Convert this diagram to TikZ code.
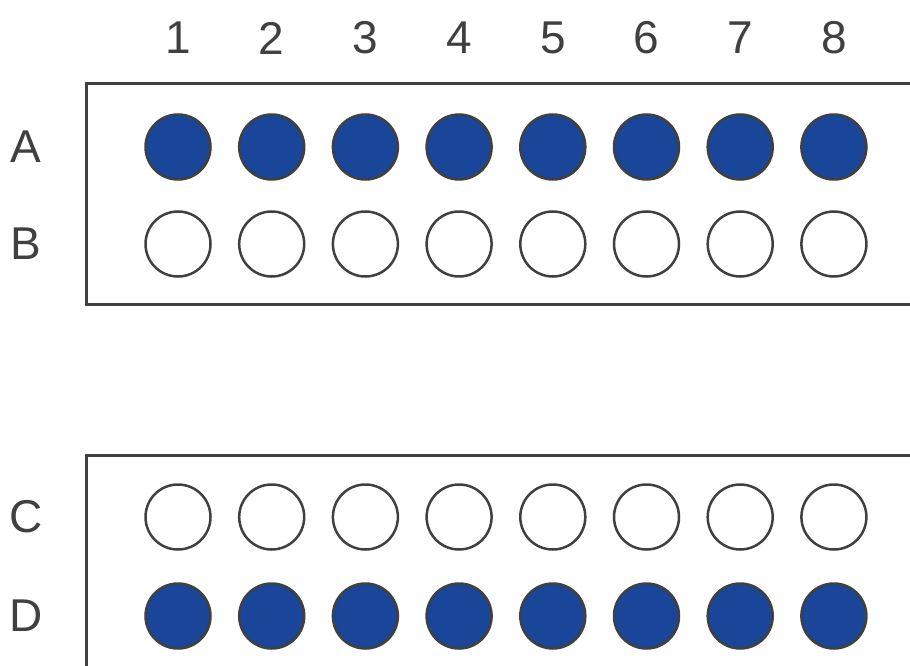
\documentclass[tikz,border=0pt]{standalone}
\usepackage{fontspec}
\setmainfont{Liberation Sans}
\usetikzlibrary{positioning}
\definecolor{wellblue}{RGB}{26,70,153}
\definecolor{rim}{RGB}{64,64,64}

\begin{document}
\begin{tikzpicture}[x=1pt, y=-1pt, well/.style = {draw=rim, circle, line width=2.5pt, minimum size=65pt, inner sep=0pt}, full/.style = {well, fill=wellblue}, lbl/.style = {text=rim, inner sep=0pt, font=\fontsize{46}{46}\selectfont}, plate/.style = {draw=rim, line width=3pt}]
    \useasboundingbox (0,0) rectangle (910,666);
    % plates, open to the right
    \coordinate (p1) at (86,84);
    \coordinate (p2) at (86,455);
    \draw[plate] (p1 -| 915,0) -- (p1) -- (86,304) -- (915,304);
    \draw[plate] (p2 -| 915,0) -- (p2) -- (86,670);
    % wells
    \foreach \i in {1,...,8} {
        \node[full] (A\i) at ({178+93.7*(\i-1)},147) {};
        \node[well] (B\i) at ({178+93.7*(\i-1)},244) {};
        \node[well] (C\i) at ({178+93.7*(\i-1)},517) {};
        \node[full] (D\i) at ({178+93.7*(\i-1)},616) {};
        \node[lbl] (n\i) at ({178+93.7*(\i-1)},38) {\i};
    }
    % row letters
    \node[lbl] (rowA) at (26,147) {A};
    \node[lbl] (rowB) at (26,244) {B};
    \node[lbl] (rowC) at (26,517) {C};
    \node[lbl] (rowD) at (26,616) {D};
\end{tikzpicture}
\end{document}
